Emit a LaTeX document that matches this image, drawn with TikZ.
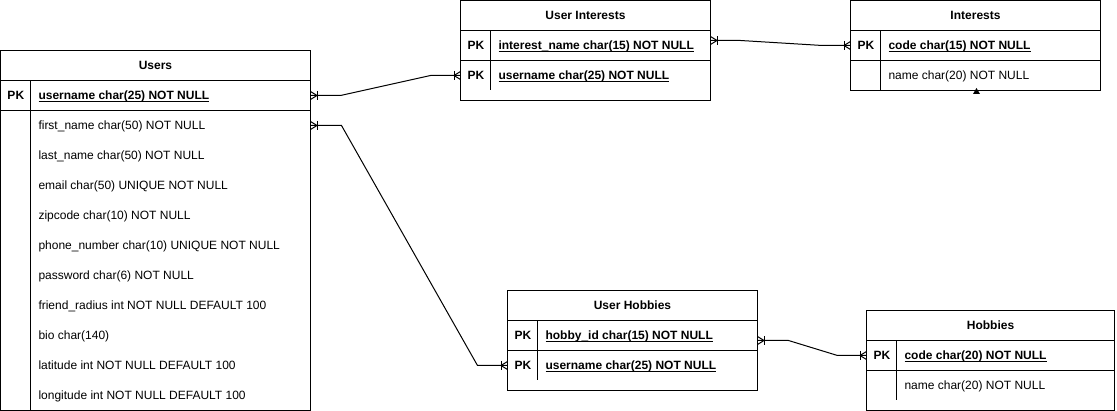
\documentclass[tikz,border=0pt]{standalone}
\usepackage{fontspec}
\setmainfont{Liberation Sans}
\usetikzlibrary{calc,arrows.meta}
\newsavebox\ulbox
\newcommand\ulx[1]{\sbox\ulbox{#1}\rlap{\rule[-1.8pt]{\wd\ulbox}{0.9pt}}\usebox\ulbox}
\newcommand\tfont{\fontsize{12}{14}\selectfont}
\pgfdeclarearrow{
  name=CrowOneMany,
  setup code={
    \pgfarrowssettipend{0pt}
    \pgfarrowssetlineend{0pt}
    \pgfarrowssetbackend{-7pt}
    \pgfarrowssetvisualbackend{-7pt}
    \pgfarrowsupperhullpoint{0pt}{4.5pt}
    \pgfarrowsupperhullpoint{-7pt}{4.5pt}
  },
  drawing code={
    \pgfsetdash{}{0pt}
    \pgfpathmoveto{\pgfqpoint{0pt}{4pt}}
    \pgfpathlineto{\pgfqpoint{-6.5pt}{0pt}}
    \pgfpathlineto{\pgfqpoint{0pt}{-4pt}}
    \pgfusepathqstroke
    \pgfpathmoveto{\pgfqpoint{-6.5pt}{4.5pt}}
    \pgfpathlineto{\pgfqpoint{-6.5pt}{-4.5pt}}
    \pgfusepathqstroke
  }
}
\begin{document}
\begin{tikzpicture}[x=1pt,y=-1pt,line width=1pt,
  every node/.style={inner sep=0pt,outer sep=0pt},
  tbl/.style 2 args={draw,fill=white,anchor=north west,minimum width=#1,minimum height=#2},
  trow/.style={anchor=north west,minimum width=#1,minimum height=30},
  ttl/.style={font=\tfont\bfseries,anchor=base},
  pkt/.style={font=\tfont\bfseries,anchor=base west},
  fld/.style={font=\tfont,anchor=base west},
  conn/.style={arrows={CrowOneMany-CrowOneMany},line width=1pt}]
\useasboundingbox (0,0) rectangle (1117,411);
\fill[white] (0,0) rectangle (1117,411);

% ---------- Users ----------
\node[tbl={310}{360}] (u) at (0.5,50.5) {};
\node[ttl] (u-t) at ($(u.north)+(0,19.5)$) {Users};
\node[trow=310] (u-pk) at (0.5,80.5) {};
\draw (u-pk.north west) -- (u-pk.north east);
\draw (u-pk.south west) -- (u-pk.south east);
\draw ($(u-pk.north west)+(30,0)$) -- ($(u.south west)+(30,0)$);
\node[pkt] (u-pkl) at ($(u-pk.west)+(7,4.5)$) {PK};
\node[pkt] (u-pkf) at ($(u-pk.west)+(38,4.5)$) {\ulx{username char(25) NOT NULL}};
\foreach \i/\t in {1/first\_name char(50) NOT NULL,
                   2/last\_name char(50) NOT NULL,
                   3/email char(50) UNIQUE NOT NULL,
                   4/zipcode char(10) NOT NULL,
                   5/phone\_number char(10) UNIQUE NOT NULL,
                   6/password char(6) NOT NULL,
                   7/friend\_radius int NOT NULL DEFAULT 100,
                   8/bio char(140),
                   9/latitude int NOT NULL DEFAULT 100,
                   10/longitude int NOT NULL DEFAULT 100}{
  \node[trow=310] (u-r\i) at (0.5,80.5+30*\i) {};
  \node[fld] (u-f\i) at ($(u-r\i.west)+(38,4.5)$) {\t};
}

% ---------- User Interests ----------
\node[tbl={250}{100}] (ui) at (460.5,0.5) {};
\node[ttl] (ui-t) at ($(ui.north)+(0,19.5)$) {User Interests};
\node[trow=250] (ui-in) at (460.5,30.5) {};
\node[trow=250] (ui-un) at (460.5,60.5) {};
\draw (ui-in.north west) -- (ui-in.north east);
\draw (ui-in.south west) -- (ui-in.south east);
\draw ($(ui-in.north west)+(30,0)$) -- ($(ui-un.south west)+(30,0)$);
\node[pkt] (ui-l1) at ($(ui-in.west)+(7,4.5)$) {PK};
\node[pkt] (ui-f1) at ($(ui-in.west)+(38,4.5)$) {\ulx{interest\_name char(15) NOT NULL}};
\node[pkt] (ui-l2) at ($(ui-un.west)+(7,4.5)$) {PK};
\node[pkt] (ui-f2) at ($(ui-un.west)+(38,4.5)$) {\ulx{username char(25) NOT NULL}};

% ---------- Interests ----------
\node[tbl={250}{90}] (i) at (850.5,0.5) {};
\node[ttl] (i-t) at ($(i.north)+(0,19.5)$) {Interests};
\node[trow=250] (i-code) at (850.5,30.5) {};
\node[trow=250] (i-nm) at (850.5,60.5) {};
\draw (i-code.north west) -- (i-code.north east);
\draw (i-code.south west) -- (i-code.south east);
\draw ($(i-code.north west)+(30,0)$) -- ($(i-nm.south west)+(30,0)$);
\node[pkt] (i-l1) at ($(i-code.west)+(7,4.5)$) {PK};
\node[pkt] (i-f1) at ($(i-code.west)+(38,4.5)$) {\ulx{code char(15) NOT NULL}};
\node[fld] (i-f2) at ($(i-nm.west)+(38,4.5)$) {name char(20) NOT NULL};
\fill ($(i-nm.south west)+(122.5,3.5)$) -- ($(i-nm.south west)+(126,-2.5)$) -- ($(i-nm.south west)+(129.5,3.5)$) -- cycle;

% ---------- User Hobbies ----------
\node[tbl={250}{100}] (uh) at (507.5,290.5) {};
\node[ttl] (uh-t) at ($(uh.north)+(0,19.5)$) {User Hobbies};
\node[trow=250] (uh-hb) at (507.5,320.5) {};
\node[trow=250] (uh-un) at (507.5,350.5) {};
\draw (uh-hb.north west) -- (uh-hb.north east);
\draw (uh-hb.south west) -- (uh-hb.south east);
\draw ($(uh-hb.north west)+(30,0)$) -- ($(uh-un.south west)+(30,0)$);
\node[pkt] (uh-l1) at ($(uh-hb.west)+(7,4.5)$) {PK};
\node[pkt] (uh-f1) at ($(uh-hb.west)+(38,4.5)$) {\ulx{hobby\_id char(15) NOT NULL}};
\node[pkt] (uh-l2) at ($(uh-un.west)+(7,4.5)$) {PK};
\node[pkt] (uh-f2) at ($(uh-un.west)+(38,4.5)$) {\ulx{username char(25) NOT NULL}};

% ---------- Hobbies ----------
\node[tbl={248}{100}] (h) at (866.5,310.5) {};
\node[ttl] (h-t) at ($(h.north)+(0,19.5)$) {Hobbies};
\node[trow=248] (h-code) at (866.5,340.5) {};
\node[trow=248] (h-nm) at (866.5,370.5) {};
\draw (h-code.north west) -- (h-code.north east);
\draw (h-code.south west) -- (h-code.south east);
\draw ($(h-code.north west)+(30,0)$) -- ($(h-nm.south west)+(30,0)$);
\node[pkt] (h-l1) at ($(h-code.west)+(7,4.5)$) {PK};
\node[pkt] (h-f1) at ($(h-code.west)+(38,4.5)$) {\ulx{code char(20) NOT NULL}};
\node[fld] (h-f2) at ($(h-nm.west)+(38,4.5)$) {name char(20) NOT NULL};

% ---------- Connectors ----------
\draw[conn] (u-pk.east) -- ++(30,0) -- ($(ui-un.west)+(-30,0)$) -- (ui-un.west);
\draw[conn] (u-r1.east) -- ++(31,0) -- ($(uh-un.west)+(-30,0)$) -- (uh-un.west);
\draw[conn] ($(ui-in.east)+(0,-5)$) -- ++(30,0) -- ($(i-code.west)+(-28,0)$) -- (i-code.west);
\draw[conn] ($(uh-hb.east)+(0,5)$) -- ++(31,0) -- ($(h-code.west)+(-29,0)$) -- (h-code.west);
\end{tikzpicture}
\end{document}
